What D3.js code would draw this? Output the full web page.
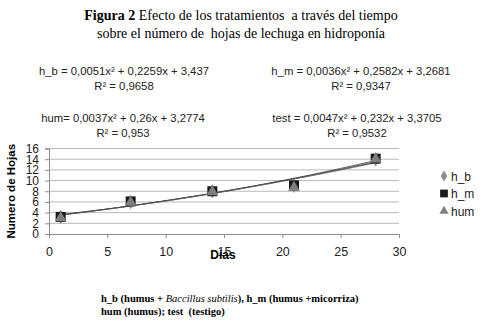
<!DOCTYPE html>
<html>
<head>
<meta charset="utf-8">
<script src="https://cdn.jsdelivr.net/npm/d3@7"></script>
<style>
  body { margin: 0; background: #fff; }
  svg { display: block; }
</style>
</head>
<body>
<div id="chart"></div>
<script>
// data
const dias = [1, 7, 14, 21, 28];
const h_b = [3.2, 6.0, 8.0, 9.0, 14.0];
const h_m = [3.2, 6.1, 8.0, 9.1, 14.1];
const hum = [3.0, 5.9, 7.9, 8.7, 14.0];
const test = [3.3, 6.0, 8.1, 9.0, 14.0];
const yTicks = [0, 2, 4, 6, 8, 10, 12, 14, 16];
const xTicks = [0, 5, 10, 15, 20, 25, 30];
// trend line coefficients [a, b, c] for a*x^2 + b*x + c
const fit_hb = [0.0051, 0.2259, 3.437];
const fit_hm = [0.0036, 0.2582, 3.2681];
const fit_hum = [0.0037, 0.26, 3.2774];
const fit_test = [0.0047, 0.232, 3.3705];
const eqLabels = [
  ["h_b = 0,0051x² + 0,2259x + 3,437", "R² = 0,9658"],
  ["h_m = 0,0036x² + 0,2582x + 3,2681", "R² = 0,9347"],
  ["hum= 0,0037x² + 0,26x + 3,2774", "R² = 0,953"],
  ["test = 0,0047x² + 0,232x + 3,3705", "R² = 0,9532"]
];

const w = 496, h = 326;
const svg = d3.select("#chart").append("svg").attr("width", w).attr("height", h);

const x = d3.scaleLinear().domain([0, 30]).range([49, 399]);
const y = d3.scaleLinear().domain([0, 16]).range([234, 148.5]);

// title
const serif = "'Liberation Serif', 'Times New Roman', serif";
const t1 = svg.append("text").attr("x", 241).attr("y", 20).attr("text-anchor", "middle")
  .style("font-family", serif).style("font-size", "14px");
t1.append("tspan").style("font-weight", "bold").text("Figura 2");
t1.append("tspan").text(" Efecto de los tratamientos\u00a0 a través del tiempo");
svg.append("text").attr("x", 241).attr("y", 38).attr("text-anchor", "middle")
  .style("font-family", serif).style("font-size", "14px")
  .text("sobre el número de\u00a0 hojas de lechuga en hidroponía");

// equations
const sans = "'Liberation Sans', Arial, sans-serif";
const eqPos = [[124, 75], [361, 75], [123, 122], [357, 122]];
eqLabels.forEach((lines, i) => {
  lines.forEach((s, j) => {
    svg.append("text").attr("x", eqPos[i][0]).attr("y", eqPos[i][1] + j * 15)
      .attr("text-anchor", "middle")
      .style("font-family", sans).style("font-size", "11.3px").style("fill", "#222")
      .text(s);
  });
});

// gridlines
svg.append("g").selectAll("line").data(yTicks.slice(1)).enter().append("line")
  .attr("x1", x(0)).attr("x2", x(30))
  .attr("y1", d => y(d)).attr("y2", d => y(d))
  .attr("stroke", "#b8b8b8").attr("stroke-width", 1);

// axes
const xAxis = svg.append("g").attr("transform", `translate(0,${y(0)})`)
  .call(d3.axisBottom(x).tickValues(xTicks).tickSize(4).tickPadding(9));
const yAxis = svg.append("g").attr("transform", `translate(${x(0)},0)`)
  .call(d3.axisLeft(y).tickValues(yTicks).tickSize(4).tickPadding(6));
[xAxis, yAxis].forEach(g => {
  g.selectAll("path, line").attr("stroke", "#8c8c8c");
  g.selectAll("text").style("font-family", sans).style("font-size", "12.5px").style("fill", "#222");
});
yAxis.selectAll("text").style("font-size", "12px");

// axis titles
svg.append("text").attr("transform", `translate(15,${y(8)}) rotate(-90)`)
  .attr("text-anchor", "middle")
  .style("font-family", sans).style("font-size", "11.5px").style("font-weight", "bold")
  .text("Numero de Hojas");
svg.append("text").attr("x", 223).attr("y", 259).attr("text-anchor", "middle")
  .style("font-family", sans).style("font-size", "12px").style("font-weight", "bold")
  .text("Dias");

// trend lines
const line = d3.line().x(d => x(d[0])).y(d => y(d[1]));
[fit_hb, fit_hm, fit_hum, fit_test].forEach((c, i) => {
  const pts = d3.range(1, 28.01, 0.5).map(v => [v, c[0] * v * v + c[1] * v + c[2]]);
  svg.append("path").datum(pts).attr("d", line).attr("fill", "none")
    .attr("stroke", i % 2 ? "#666" : "#333").attr("stroke-width", 0.8)
    .attr("stroke-dasharray", i === 3 ? "3,1" : null);
});

// markers
const series = [
  { name: "h_b", vals: h_b, sym: d3.symbolDiamond, size: 60, color: "#8c8c8c" },
  { name: "h_m", vals: h_m, sym: d3.symbolSquare, size: 100, color: "#1a1a1a" },
  { name: "hum", vals: hum, sym: d3.symbolTriangle, size: 60, color: "#7f7f7f" }
];
series.forEach(s => {
  svg.append("g").selectAll("path").data(s.vals).enter().append("path")
    .attr("d", d3.symbol().type(s.sym).size(s.size))
    .attr("transform", (d, i) => `translate(${x(dias[i])},${y(d)})`)
    .attr("fill", s.color);
});

// legend
series.forEach((s, i) => {
  const ly = 176 + i * 17.5;
  svg.append("path").attr("d", d3.symbol().type(s.sym).size(s.size * 0.6))
    .attr("transform", `translate(444,${ly})`).attr("fill", s.color);
  svg.append("text").attr("x", 451).attr("y", ly + 4.5)
    .style("font-family", sans).style("font-size", "12px").style("fill", "#222")
    .text(s.name);
});

// footnote
const f1 = svg.append("text").attr("x", 101).attr("y", 302)
  .style("font-family", serif).style("font-size", "10.5px").style("font-weight", "bold");
f1.append("tspan").text("h_b (humus + ");
f1.append("tspan").style("font-style", "italic").style("font-weight", "normal").text("Baccillus subtilis");
f1.append("tspan").text("), h_m (humus +micorriza)");
svg.append("text").attr("x", 101).attr("y", 315)
  .style("font-family", serif).style("font-size", "10.5px").style("font-weight", "bold")
  .text("hum (humus); test\u00a0 (testigo)");
</script>
</body>
</html>
